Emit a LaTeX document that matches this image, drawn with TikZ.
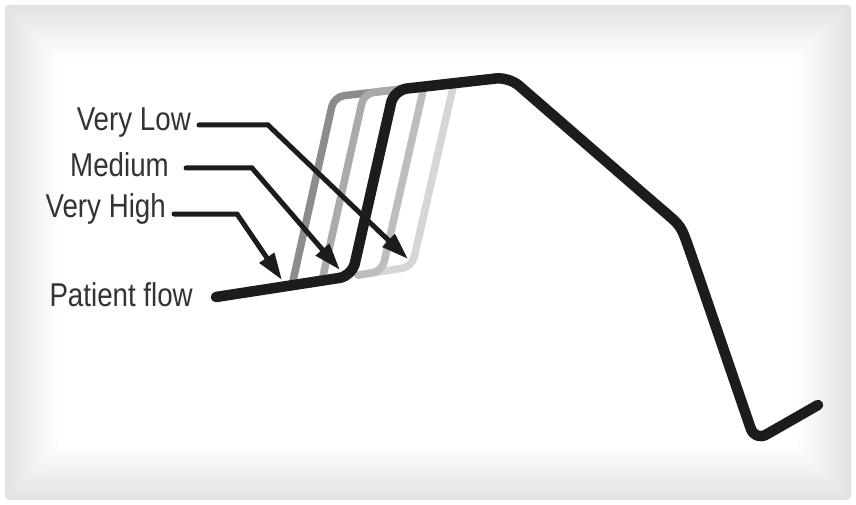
\documentclass[tikz,border=0pt]{standalone}
\usepackage{fontspec}
\setmainfont{Liberation Sans}[FakeStretch=0.84]
\usetikzlibrary{arrows.meta}
\definecolor{txt}{HTML}{333333}
\definecolor{ink}{HTML}{1C1C1C}
\definecolor{gA}{HTML}{8C8C8C}
\definecolor{gB}{HTML}{AAAAAA}
\definecolor{gC}{HTML}{BDBDBD}
\definecolor{gD}{HTML}{D6D6D6}
\begin{document}
\begin{tikzpicture}[x=1pt,y=-1pt,
  flow/.style={line width=10.5pt, draw=ink, line cap=round, line join=round, rounded corners=13pt},
  ghost/.style={line width=7.5pt, line cap=round, line join=round, rounded corners=10pt},
  pointer/.style={line width=5pt, draw=ink, line cap=round, -{Triangle[length=27pt,width=17pt]}},
  lab/.style={anchor=base east, inner sep=0pt, text=txt, font=\fontsize{33}{38}\selectfont}]
\useasboundingbox (0,0) rectangle (856,505);
\fill[white] (0,0) rectangle (856,505);
\foreach \i in {0,...,15}{
  \pgfmathsetmacro\lvl{11*(1-\i/15)}
  \fill[black!\lvl, rounded corners=4pt] (5+3.5*\i, 5+3.5*\i) rectangle (851-3.5*\i, 500-3.5*\i);
}
\fill[white, rounded corners=20pt] (58,58) rectangle (798,447);

% labels
\node[lab] (vlow) at (191,131) {Very Low};
\node[lab] (med) at (169,177) {Medium};
\node[lab] (vhigh) at (166,218) {Very High};
\node[lab] (pflow) at (193,306) {Patient flow};

% ghost curves
\coordinate (a0) at (292,285.2); \coordinate (a1) at (334,96.8); \coordinate (a2) at (400,89.3);
\coordinate (b0) at (322,280.6); \coordinate (b1) at (364,93.4); \coordinate (b2) at (400,89.3);
\coordinate (c0) at (358,275.1); \coordinate (c1) at (382,271.4); \coordinate (c2) at (424,86.6);
\coordinate (d0) at (358,275.1); \coordinate (d1) at (412,266.8); \coordinate (d2) at (454,83.2);
\draw[ghost, gD] (d0) -- (d1) -- (d2);
\draw[ghost, gC] (c0) -- (c1) -- (c2);
\draw[ghost, gA] (a0) -- (a1) -- (a2);
\draw[ghost, gB] (b0) -- (b1) -- (b2);

% main flow
\coordinate (f0) at (216,297);
\coordinate (f1) at (352,276);
\coordinate (f2) at (394,90);
\coordinate (f3) at (509,77);
\coordinate (f4a) at (654,202.9);
\coordinate (f4) at (681,226);
\coordinate (f4b) at (693,260);
\coordinate (f5) at (755,441);
\coordinate (f6) at (818,405);
\draw[flow] (f0) -- (f1) -- (f2) -- (f3) -- (f4a) .. controls (f4) .. (f4b) -- (f5) -- (f6);

% pointers
\coordinate (vl0) at (199,125); \coordinate (vl1) at (268,125); \coordinate (vl2) at (408,259);
\coordinate (m0) at (186,168); \coordinate (m1) at (252,168); \coordinate (m2) at (340,270);
\coordinate (h0) at (174,214); \coordinate (h1) at (237,214); \coordinate (h2) at (282,280);
\draw[pointer] (vl0) -- (vl1) -- (vl2);
\draw[pointer] (m0) -- (m1) -- (m2);
\draw[pointer] (h0) -- (h1) -- (h2);
\end{tikzpicture}
\end{document}
